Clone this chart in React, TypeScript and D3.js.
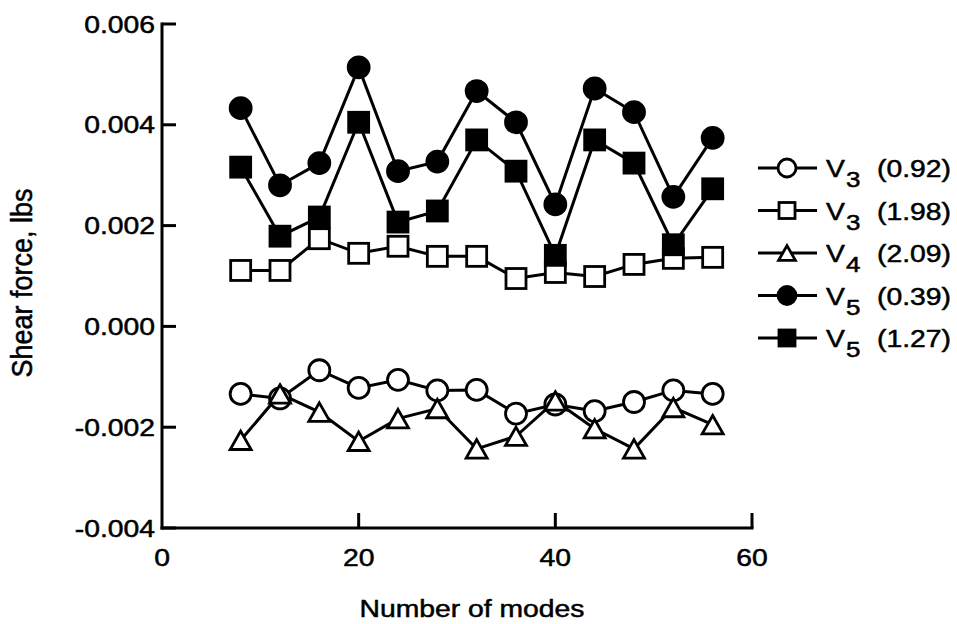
import React from 'react';
import * as d3 from 'd3';

// number of modes on the x axis
const modes = [8, 12, 16, 20, 24, 28, 32, 36, 40, 44, 48, 52, 56];

// shear force values, in units of 0.001 lbs
const v3a = [-1.34, -1.43, -0.87, -1.22, -1.06, -1.27, -1.26, -1.73, -1.55, -1.68, -1.5, -1.27, -1.34];
const v3b = [1.11, 1.11, 1.74, 1.45, 1.59, 1.39, 1.39, 0.95, 1.07, 0.99, 1.23, 1.35, 1.37];
const v4 = [-2.26, -1.34, -1.7, -2.28, -1.83, -1.63, -2.43, -2.18, -1.48, -2.03, -2.43, -1.61, -1.95];
const v5a = [4.33, 2.8, 3.24, 5.14, 3.08, 3.27, 4.67, 4.05, 2.42, 4.72, 4.25, 2.57, 3.74];
const v5b = [3.16, 1.79, 2.17, 4.05, 2.07, 2.29, 3.7, 3.08, 1.41, 3.7, 3.24, 1.62, 2.73];

const xTicks = [0, 20, 40, 60];
const yTicks = [-0.004, -0.002, 0, 0.002, 0.004, 0.006];

const series = [
  { name: 'V', sub: '3', note: '(0.92)', values: v3a, marker: 'circle', filled: false },
  { name: 'V', sub: '3', note: '(1.98)', values: v3b, marker: 'square', filled: false },
  { name: 'V', sub: '4', note: '(2.09)', values: v4, marker: 'triangle', filled: false },
  { name: 'V', sub: '5', note: '(0.39)', values: v5a, marker: 'circle', filled: true },
  { name: 'V', sub: '5', note: '(1.27)', values: v5b, marker: 'square', filled: true },
];

const FONT = '"Liberation Sans", Arial, Helvetica, sans-serif';
const SX = 1.18; // the scanned type is a little wide

const Marker = ({ kind, filled, x, y, s }: { kind: string; filled: boolean; x: number; y: number; s: number }) => {
  const fill = filled ? '#000' : '#fff';
  const sw = 2.8;
  if (kind === 'circle') return <circle cx={x} cy={y} r={s / 2} fill={fill} stroke="#000" strokeWidth={sw} />;
  if (kind === 'square')
    return <rect x={x - s / 2} y={y - s / 2} width={s} height={s} fill={fill} stroke="#000" strokeWidth={sw} />;
  const h = s * 0.92;
  const w = s * 1.05;
  return (
    <path
      d={`M${x},${y - h / 2}L${x + w / 2},${y + h / 2}L${x - w / 2},${y + h / 2}Z`}
      fill={fill}
      stroke="#000"
      strokeWidth={sw}
    />
  );
};

const Txt = ({ x, y, size, anchor = 'start', children }: any) => (
  <text
    transform={`translate(${x},${y}) scale(${SX},1)`}
    fontSize={size}
    textAnchor={anchor}
    fontFamily={FONT}
    fill="#000"
    stroke="#000"
    strokeWidth={0.5}
  >
    {children}
  </text>
);

export default function App() {
  const width = 957;
  const height = 624;

  const x = d3.scaleLinear().domain([0, 60]).range([162, 752]);
  const y = d3.scaleLinear().domain([-0.004, 0.006]).range([528, 24]);

  const line = d3
    .line<number>()
    .x((d, i) => x(modes[i]))
    .y((d) => y(d / 1000));

  // legend layout
  const legTop = 168;
  const legStep = 42.5;

  return (
    <svg
      width={width}
      height={height}
      style={{ position: 'absolute', left: 0, top: 0, background: '#fff' }}
    >
      {/* axes */}
      <g stroke="#000" strokeWidth={3} fill="none">
        <line x1={x(0)} x2={x(0)} y1={y(0.006) - 1.5} y2={y(-0.004) + 1.5} />
        <line x1={x(0) - 1.5} x2={x(60) + 1.5} y1={y(-0.004)} y2={y(-0.004)} />
        {yTicks.map((t) => (
          <line key={t} x1={x(0)} x2={x(0) + 14} y1={y(t)} y2={y(t)} />
        ))}
        {xTicks.slice(1).map((t) => (
          <line key={t} x1={x(t)} x2={x(t)} y1={y(-0.004)} y2={y(-0.004) - 15} />
        ))}
      </g>

      {yTicks.map((t) => (
        <Txt key={t} x={155} y={y(t) + 8.5} size={24} anchor="end">
          {d3.format('.3f')(t).replace('−', '-')}
        </Txt>
      ))}
      {xTicks.map((t) => (
        <Txt key={t} x={x(t)} y={566} size={24} anchor="middle">
          {t}
        </Txt>
      ))}

      <Txt x={472} y={617} size={24} anchor="middle">
        Number of modes
      </Txt>
      <text
        transform={`translate(32,283) scale(1.1,1) rotate(-90)`}
        fontSize={27}
        textAnchor="middle"
        fontFamily={FONT}
        stroke="#000"
        strokeWidth={0.5}
      >
        Shear force, lbs
      </text>

      {/* series lines */}
      <g fill="none" stroke="#000" strokeWidth={3}>
        {series.map((s, i) => (
          <path key={i} d={line(s.values) || ''} />
        ))}
      </g>

      {/* markers */}
      {series.map((s, i) => (
        <g key={i}>
          {s.values.map((v, j) => (
            <Marker key={j} kind={s.marker} filled={s.filled} x={x(modes[j])} y={y(v / 1000)} s={s.marker === 'circle' ? 21 : 20} />
          ))}
        </g>
      ))}

      {/* legend */}
      {series.map((s, i) => {
        const ly = legTop + i * legStep;
        return (
          <g key={i}>
            <line x1={758} x2={817} y1={ly} y2={ly} stroke="#000" strokeWidth={3} />
            <Marker kind={s.marker} filled={s.filled} x={787} y={ly} s={s.marker === 'circle' ? 18 : 16} />
            <Txt x={826} y={ly + 9} size={24}>
              {s.name}
            </Txt>
            <Txt x={846} y={ly + 19} size={22}>
              {s.sub}
            </Txt>
            <Txt x={877} y={ly + 9} size={24}>
              {s.note}
            </Txt>
          </g>
        );
      })}
    </svg>
  );
}
